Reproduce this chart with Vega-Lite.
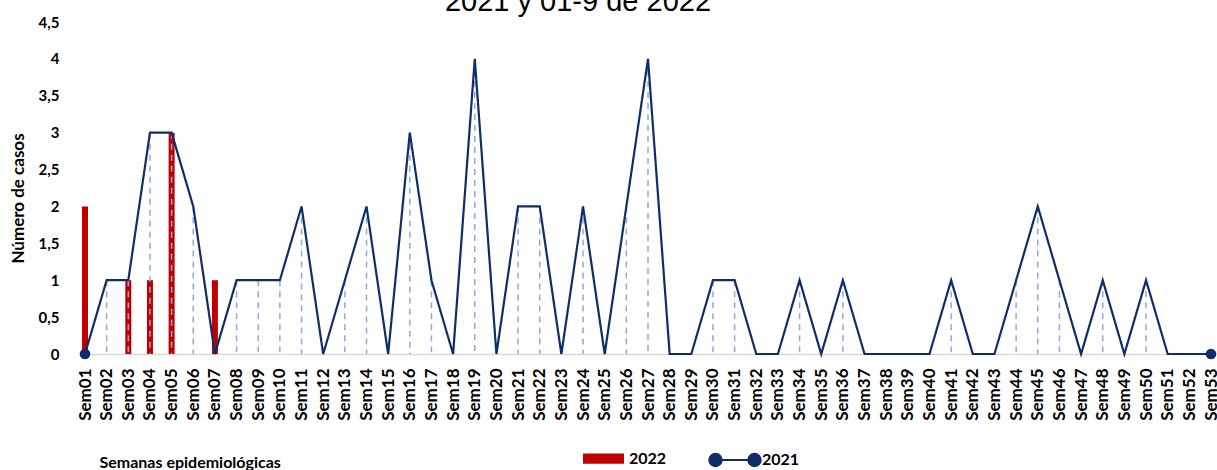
{
  "$schema": "https://vega.github.io/schema/vega-lite/v6.json",
  "width": 1126,
  "height": 332,
  "autosize": "none",
  "padding": {"left": 85, "top": 22, "right": 6, "bottom": 116},
  "background": "white",
  "title": {
    "text": "2021 y 01-9 de 2022",
    "font": "Liberation Sans",
    "fontSize": 29,
    "fontWeight": "normal",
    "color": "#000000",
    "anchor": "middle",
    "frame": "group",
    "dx": -70,
    "offset": 0,
    "baseline": "alphabetic",
    "dy": 25
  },
  "data": {
    "values": [
      {"semana": "Sem01", "serie": "2021", "casos": 0},
      {"semana": "Sem02", "serie": "2021", "casos": 1},
      {"semana": "Sem03", "serie": "2021", "casos": 1},
      {"semana": "Sem04", "serie": "2021", "casos": 3},
      {"semana": "Sem05", "serie": "2021", "casos": 3},
      {"semana": "Sem06", "serie": "2021", "casos": 2},
      {"semana": "Sem07", "serie": "2021", "casos": 0},
      {"semana": "Sem08", "serie": "2021", "casos": 1},
      {"semana": "Sem09", "serie": "2021", "casos": 1},
      {"semana": "Sem10", "serie": "2021", "casos": 1},
      {"semana": "Sem11", "serie": "2021", "casos": 2},
      {"semana": "Sem12", "serie": "2021", "casos": 0},
      {"semana": "Sem13", "serie": "2021", "casos": 1},
      {"semana": "Sem14", "serie": "2021", "casos": 2},
      {"semana": "Sem15", "serie": "2021", "casos": 0},
      {"semana": "Sem16", "serie": "2021", "casos": 3},
      {"semana": "Sem17", "serie": "2021", "casos": 1},
      {"semana": "Sem18", "serie": "2021", "casos": 0},
      {"semana": "Sem19", "serie": "2021", "casos": 4},
      {"semana": "Sem20", "serie": "2021", "casos": 0},
      {"semana": "Sem21", "serie": "2021", "casos": 2},
      {"semana": "Sem22", "serie": "2021", "casos": 2},
      {"semana": "Sem23", "serie": "2021", "casos": 0},
      {"semana": "Sem24", "serie": "2021", "casos": 2},
      {"semana": "Sem25", "serie": "2021", "casos": 0},
      {"semana": "Sem26", "serie": "2021", "casos": 2},
      {"semana": "Sem27", "serie": "2021", "casos": 4},
      {"semana": "Sem28", "serie": "2021", "casos": 0},
      {"semana": "Sem29", "serie": "2021", "casos": 0},
      {"semana": "Sem30", "serie": "2021", "casos": 1},
      {"semana": "Sem31", "serie": "2021", "casos": 1},
      {"semana": "Sem32", "serie": "2021", "casos": 0},
      {"semana": "Sem33", "serie": "2021", "casos": 0},
      {"semana": "Sem34", "serie": "2021", "casos": 1},
      {"semana": "Sem35", "serie": "2021", "casos": 0},
      {"semana": "Sem36", "serie": "2021", "casos": 1},
      {"semana": "Sem37", "serie": "2021", "casos": 0},
      {"semana": "Sem38", "serie": "2021", "casos": 0},
      {"semana": "Sem39", "serie": "2021", "casos": 0},
      {"semana": "Sem40", "serie": "2021", "casos": 0},
      {"semana": "Sem41", "serie": "2021", "casos": 1},
      {"semana": "Sem42", "serie": "2021", "casos": 0},
      {"semana": "Sem43", "serie": "2021", "casos": 0},
      {"semana": "Sem44", "serie": "2021", "casos": 1},
      {"semana": "Sem45", "serie": "2021", "casos": 2},
      {"semana": "Sem46", "serie": "2021", "casos": 1},
      {"semana": "Sem47", "serie": "2021", "casos": 0},
      {"semana": "Sem48", "serie": "2021", "casos": 1},
      {"semana": "Sem49", "serie": "2021", "casos": 0},
      {"semana": "Sem50", "serie": "2021", "casos": 1},
      {"semana": "Sem51", "serie": "2021", "casos": 0},
      {"semana": "Sem52", "serie": "2021", "casos": 0},
      {"semana": "Sem53", "serie": "2021", "casos": 0},
      {"semana": "Sem01", "serie": "2022", "casos": 2},
      {"semana": "Sem02", "serie": "2022", "casos": 0},
      {"semana": "Sem03", "serie": "2022", "casos": 1},
      {"semana": "Sem04", "serie": "2022", "casos": 1},
      {"semana": "Sem05", "serie": "2022", "casos": 3},
      {"semana": "Sem06", "serie": "2022", "casos": 0},
      {"semana": "Sem07", "serie": "2022", "casos": 1},
      {"semana": "Sem08", "serie": "2022", "casos": 0},
      {"semana": "Sem09", "serie": "2022", "casos": 0}
    ]
  },
  "encoding": {
    "x": {
      "field": "semana",
      "type": "ordinal",
      "scale": {
        "type": "point",
        "padding": 0,
        "domain": ["Sem01","Sem02","Sem03","Sem04","Sem05","Sem06","Sem07","Sem08","Sem09","Sem10","Sem11","Sem12","Sem13","Sem14","Sem15","Sem16","Sem17","Sem18","Sem19","Sem20","Sem21","Sem22","Sem23","Sem24","Sem25","Sem26","Sem27","Sem28","Sem29","Sem30","Sem31","Sem32","Sem33","Sem34","Sem35","Sem36","Sem37","Sem38","Sem39","Sem40","Sem41","Sem42","Sem43","Sem44","Sem45","Sem46","Sem47","Sem48","Sem49","Sem50","Sem51","Sem52","Sem53"]
      },
      "axis": {
        "title": "Semanas epidemiológicas",
        "titleFont": "Lato",
        "titleFontSize": 16,
        "titleFontWeight": "bold",
        "titleColor": "#000000",
        "titleAnchor": "start",
        "titleAlign": "left",
        "titleBaseline": "middle",
        "titleX": 14,
        "titleY": 108,
        "labelAngle": -90,
        "labelFont": "Lato",
        "labelFontSize": 17,
        "labelFontWeight": "bold",
        "labelColor": "#000000",
        "labelPadding": 14,
        "ticks": false,
        "tickSize": 0,
        "domainColor": "#D9D9D9",
        "domainWidth": 1.5,
        "grid": false
      }
    },
    "y": {
      "field": "casos",
      "type": "quantitative",
      "scale": {"domain": [0, 4.5], "nice": false},
      "axis": {
        "title": "Número de casos",
        "titleFont": "Lato",
        "titleFontSize": 17,
        "titleFontWeight": "bold",
        "titleColor": "#000000",
        "titleAngle": -90,
        "titleAlign": "center",
        "titleBaseline": "middle",
        "titleX": -67,
        "titleY": 176,
        "values": [0, 0.5, 1, 1.5, 2, 2.5, 3, 3.5, 4, 4.5],
        "labelExpr": "replace(format(datum.value, '.1~f'), '.', ',')",
        "labelFont": "Lato",
        "labelFontSize": 15,
        "labelFontWeight": "bold",
        "labelColor": "#000000",
        "labelPadding": 26,
        "ticks": false,
        "tickSize": 0,
        "domain": false,
        "grid": false
      }
    }
  },
  "layer": [
    {
      "transform": [{"filter": "datum.serie == '2022' && datum.casos > 0"}],
      "mark": {"type": "bar", "size": 6},
      "encoding": {
        "fill": {
          "field": "serie",
          "type": "nominal",
          "scale": {"domain": ["2022"], "range": ["#C00000"]},
          "legend": {
            "title": null,
            "orient": "none",
            "legendX": 498,
            "legendY": 416,
            "padding": 0,
            "symbolType": "M-1,-0.25H1V0.25H-1Z",
            "symbolSize": 1681,
            "symbolStrokeWidth": 0,
            "labelFont": "Lato",
            "labelFontSize": 16,
            "labelFontWeight": "bold",
            "labelColor": "#000000",
            "labelOffset": 5
          }
        }
      }
    },
    {
      "transform": [{"filter": "datum.serie == '2021' && datum.casos > 0"}],
      "mark": {"type": "rule", "color": "#8EAADB", "strokeWidth": 1.5, "strokeDash": [6, 5]},
      "encoding": {
        "y2": {"datum": 0}
      }
    },
    {
      "transform": [{"filter": "datum.serie == '2021'"}],
      "mark": {"type": "line", "strokeWidth": 2.2},
      "encoding": {
        "stroke": {
          "field": "serie",
          "type": "nominal",
          "scale": {"domain": ["2021"], "range": ["#0F2D69"]},
          "legend": {
            "title": null,
            "orient": "none",
            "legendX": 623,
            "legendY": 411,
            "padding": 0,
            "symbolType": "M-0.75,0L0.75,0M-0.99,0A0.24,0.24,0,1,0,-0.51,0A0.24,0.24,0,1,0,-0.99,0ZM0.51,0A0.24,0.24,0,1,0,0.99,0A0.24,0.24,0,1,0,0.51,0Z",
            "symbolSize": 2704,
            "symbolStrokeWidth": 2,
            "symbolFillColor": "#0F2D69",
            "labelFont": "Lato",
            "labelFontSize": 16,
            "labelFontWeight": "bold",
            "labelColor": "#000000",
            "labelOffset": 0
          }
        }
      }
    },
    {
      "transform": [{"filter": "datum.serie == '2021' && (datum.semana == 'Sem01' || datum.semana == 'Sem53')"}],
      "mark": {"type": "point", "filled": true, "size": 113, "color": "#0F2D69", "opacity": 1}
    }
  ],
  "config": {
    "view": {"stroke": null}
  }
}
